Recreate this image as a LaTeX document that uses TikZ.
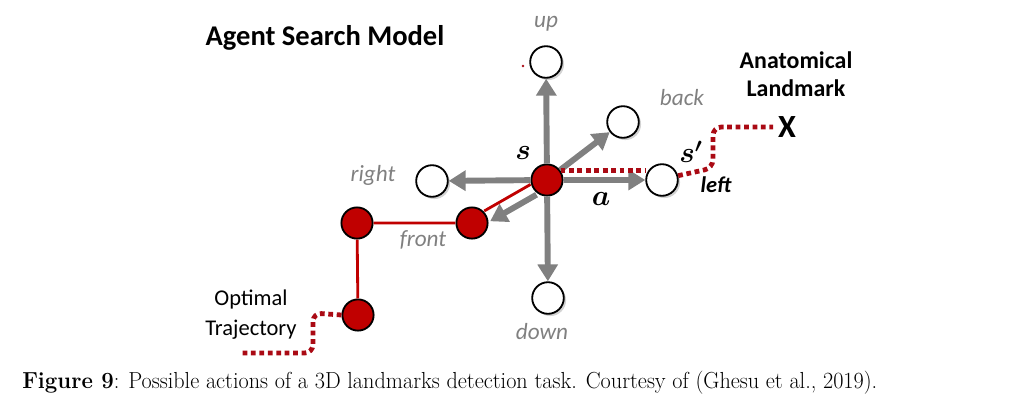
\documentclass[tikz,border=0pt]{standalone}
\usepackage{fontspec}
\newfontfamily\carl{Carlito}
\usepackage{xcolor}
\usetikzlibrary{shadows,arrows.meta,positioning}
\definecolor{agred}{RGB}{192,0,0}
\definecolor{trailred}{RGB}{170,10,20}
\definecolor{aggray}{RGB}{128,128,128}

\begin{document}
\begin{tikzpicture}[x=0.025cm,y=-0.025cm]
\useasboundingbox (0,0) rectangle (1025,416);

\tikzset{>={Triangle[length=12pt,width=14pt]}}
\def\rr{0.78cm}
\def\rw{0.79cm}
\tikzstyle{state} = [circle, draw=black, line width=1.3pt, fill=agred,
	minimum size=\rr, inner sep=0pt];
\tikzstyle{next} = [circle, draw=black, line width=1.3pt, fill=white,
	minimum size=\rw, inner sep=0pt,
	drop shadow={shadow xshift=1.6pt, shadow yshift=-1.6pt, opacity=0.35}];
\tikzstyle{move} = [draw=aggray, line width=4.2pt, ->];
\tikzstyle{traj} = [draw=agred, line width=2pt];
\tikzstyle{trail} = [draw=trailred, line width=3.4pt, dash pattern=on 3.4pt off 2.6pt,
	rounded corners=6pt];
\tikzstyle{act} = [text=aggray, font=\carl\itshape\fontsize{16.5}{18}\selectfont];
\tikzstyle{sym} = [font=\fontsize{20}{22}\selectfont\boldmath];
\tikzstyle{tag} = [align=center];

% agent and its six neighbours
\node[state] (s) at (547,180) {};
\node[next] (up) at (546,62) {};
\node[next] (down) at (548,298) {};
\node[next] (right) at (432,181) {};
\node[next] (left) at (662,180) {};
\node[next] (back) at (623,122) {};
\node[state] (front) at (472,223) {};
\node[state] (turn) at (357,223) {};
\node[state] (start) at (358,315) {};
\node[circle, fill=trailred, minimum size=2pt, inner sep=0pt] (speck) at (523,66) {};

\draw[move] (s) -- (up);
\draw[move] (s) -- (down);
\draw[move] (s) -- (right);
\draw[move] (s) -- (left);
\draw[move] (s) -- (back);
\draw[move, transform canvas={xshift=2.7pt, yshift=-4.6pt}] (s) -- (front);

\draw[traj, transform canvas={xshift=-1.5pt, yshift=2.7pt}] (s) -- (front);
\draw[traj] (front) -- (turn) -- (start);

\node[font=\carl\bfseries\fontsize{23}{23}\selectfont] (X) at (787,127) {X};
\coordinate (trajend) at (242,353);
\draw[trail] (s.35) -- (s.35 -| left.west);
\draw[trail] (left.15) -- (713,168) -- (713,127) -- (X.west);
\draw[trail] (start.west) -- (313,313) -- (313,353) -- (trajend);

% labels
\node[font=\carl\bfseries\fontsize{20.3}{22}\selectfont] (title) at (325,38) {Agent Search Model};
\node[act] (lup) at (546,24) {up};
\node[act] (lback) at (682,98) {back};
\node[act] (lright) at (373,175) {right};
\node[act] (lfront) at (423,240) {front};
\node[act] (ldown) at (542,332) {down};
\node[font=\carl\bfseries\itshape\fontsize{16}{18}\selectfont] (lleft) at (716,185) {left};
\node[sym] (ls) at (523,153) {$s$};
\node[sym] (lsp) at (691,152) {$s'$};
\node[sym] (la) at (601,199) {$a$};
\node[tag, font=\carl\bfseries\fontsize{17}{20}\selectfont] (mark) at (796,74) {Anatomical\\Landmark};
\node[tag, font=\carl\fontsize{16}{21.3}\selectfont] (opt) at (251,315) {Optimal\\Trajectory};

\node[anchor=west, inner sep=0pt] (cap) at (22,383) {\resizebox{608pt}{\height}{\fontsize{16.5}{18}\selectfont
	\textbf{Figure 9}: Possible actions of a 3D landmarks detection task. Courtesy of (Ghesu et al., 2019).}};

\end{tikzpicture}
\end{document}
